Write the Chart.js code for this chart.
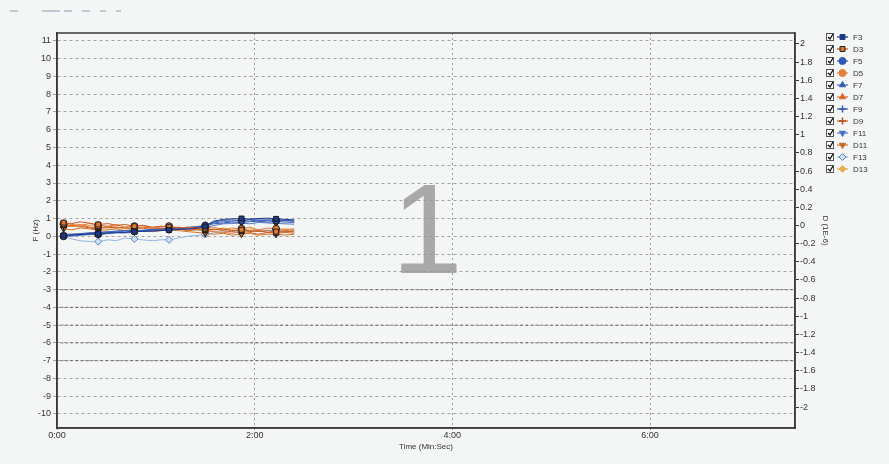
<!DOCTYPE html>
<html>
<head>
<meta charset="utf-8">
<title>Frequency / dissipation</title>
<script src="https://cdn.jsdelivr.net/npm/chart.js@4/dist/chart.umd.min.js"></script>
<style>
  html, body { margin: 0; padding: 0; background: #f4f5f5; }
  #wrap { position: relative; width: 889px; height: 464px; }
</style>
</head>
<body>
<div id="wrap"><canvas id="qcmChart" width="889" height="464"></canvas></div>
<script>
/* ============================================================
   QCM run 1 — frequency (F) and dissipation (D) overtones
   ============================================================ */

// Sample times (seconds)
const TIMES = [4, 9, 14, 20, 25, 31, 36, 41, 47, 52, 58, 63, 68, 74, 79, 85, 90, 95, 101, 106, 112, 117, 122, 128, 133, 139, 144];

// Frequency shifts, Hz (left axis)
const F3  = [0.05, 0.08, 0.1, 0.12, 0.15, 0.18, 0.2, 0.22, 0.25, 0.28, 0.3, 0.32, 0.35, 0.38, 0.4, 0.45, 0.55, 0.85, 0.95, 0.98, 1.0, 0.97, 1.0, 1.02, 0.98, 0.95, 0.92];
const F5  = [0.0, 0.05, 0.1, 0.15, 0.12, 0.2, 0.25, 0.22, 0.3, 0.28, 0.35, 0.33, 0.4, 0.42, 0.45, 0.5, 0.6, 0.8, 0.9, 0.92, 0.88, 0.95, 0.9, 0.93, 0.9, 0.88, 0.85];
const F7  = [0.02, 0.1, 0.08, 0.18, 0.2, 0.25, 0.22, 0.3, 0.28, 0.35, 0.38, 0.4, 0.42, 0.45, 0.48, 0.52, 0.62, 0.75, 0.82, 0.85, 0.9, 0.86, 0.92, 0.88, 0.85, 0.9, 0.87];
const F9  = [0.1, 0.12, 0.15, 0.2, 0.22, 0.25, 0.3, 0.32, 0.35, 0.3, 0.38, 0.4, 0.42, 0.45, 0.5, 0.55, 0.6, 0.7, 0.75, 0.8, 0.78, 0.82, 0.85, 0.8, 0.83, 0.8, 0.78];
const F11 = [0.05, 0.0, 0.05, 0.1, 0.08, 0.15, 0.2, 0.18, 0.25, 0.3, 0.28, 0.35, 0.38, 0.4, 0.42, 0.45, 0.5, 0.6, 0.7, 0.72, 0.75, 0.7, 0.78, 0.75, 0.72, 0.7, 0.68];
const F13 = [0.0, -0.15, -0.25, -0.3, -0.3, -0.2, -0.25, -0.1, -0.15, -0.2, -0.25, -0.2, -0.2, -0.1, 0.0, 0.05, 0.1, 0.2, 0.25, 0.3, 0.28, 0.32, 0.3, 0.35, 0.3, 0.28, 0.3];

// Dissipation shifts, 1E-6 (right axis)
const D3  = [0.031, 0.021, 0.041, 0.025, 0.011, 0.021, 0.002, 0.011, -0.008, 0.002, -0.018, -0.008, -0.018, -0.022, -0.028, -0.018, -0.033, -0.047, -0.037, -0.057, -0.047, -0.067, -0.057, -0.076, -0.067, -0.057, -0.073];
const D5  = [0.021, 0.011, 0.002, 0.021, 0.002, -0.008, 0.011, -0.018, -0.008, 0.002, -0.028, -0.018, -0.008, -0.028, -0.018, -0.037, -0.028, -0.018, -0.047, -0.028, -0.037, -0.018, -0.047, -0.028, -0.037, -0.047, -0.037];
const D7  = [0.002, -0.008, 0.011, -0.018, -0.028, -0.008, -0.018, -0.028, -0.037, -0.018, -0.028, -0.037, -0.028, -0.018, -0.037, -0.047, -0.057, -0.067, -0.076, -0.086, -0.067, -0.076, -0.096, -0.076, -0.086, -0.076, -0.086];
const D9  = [-0.018, 0.002, -0.008, -0.028, -0.037, -0.018, -0.028, -0.018, -0.037, -0.028, -0.047, -0.037, -0.047, -0.037, -0.057, -0.047, -0.057, -0.037, -0.057, -0.067, -0.047, -0.057, -0.067, -0.057, -0.076, -0.067, -0.057];
const D11 = [-0.037, -0.047, -0.028, -0.037, -0.057, -0.047, -0.037, -0.057, -0.047, -0.057, -0.067, -0.057, -0.047, -0.057, -0.067, -0.076, -0.086, -0.096, -0.086, -0.106, -0.096, -0.086, -0.106, -0.096, -0.096, -0.106, -0.096];
const D13 = [0.011, -0.008, -0.018, 0.002, -0.018, -0.028, -0.018, -0.037, -0.028, -0.018, -0.037, -0.028, -0.037, -0.047, -0.028, -0.037, -0.057, -0.047, -0.028, -0.047, -0.057, -0.037, -0.047, -0.057, -0.047, -0.037, -0.047];

// Stray traces from the panel behind (left axis levels)
const GHOST_LEVELS = [-3, -4, -5, -6, -7];

// Axis ticks
const X_TICKS = [0, 120, 240, 360];
const D_TICK_RANGE = [-2, 2];
const BIG_LABEL = '1';

const FONT = '"Liberation Sans", Arial, sans-serif';

// ── Series styles ─────────────────────────────────────────────
const SERIES = [
  { name: 'F3',  data: F3,  axis: 'y',  color: '#1d3a8a', fill: '#1d3a8a', style: 'rect',     rot: 0 },
  { name: 'D3',  data: D3,  axis: 'y2', color: '#d0561f', fill: '#e07a2c', style: 'rect',     rot: 0, edge: '#222' },
  { name: 'F5',  data: F5,  axis: 'y',  color: '#2f56b8', fill: '#2f56b8', style: 'circle',   rot: 0 },
  { name: 'D5',  data: D5,  axis: 'y2', color: '#e2803a', fill: '#e2803a', style: 'circle',   rot: 0 },
  { name: 'F7',  data: F7,  axis: 'y',  color: '#4468c8', fill: '#3558b0', style: 'triangle', rot: 0 },
  { name: 'D7',  data: D7,  axis: 'y2', color: '#e06a2a', fill: '#d8672a', style: 'triangle', rot: 0 },
  { name: 'F9',  data: F9,  axis: 'y',  color: '#3a5aa8', fill: '#3a5aa8', style: 'cross',    rot: 0 },
  { name: 'D9',  data: D9,  axis: 'y2', color: '#c8641e', fill: '#b8501e', style: 'cross',    rot: 0 },
  { name: 'F11', data: F11, axis: 'y',  color: '#5577cc', fill: '#4a6ec8', style: 'triangle', rot: 180 },
  { name: 'D11', data: D11, axis: 'y2', color: '#d4762c', fill: '#c86a28', style: 'triangle', rot: 180 },
  { name: 'F13', data: F13, axis: 'y',  color: '#93b8e4', fill: '#cfe0f4', style: 'rectRot',  rot: 0, edge: '#5a86c0' },
  { name: 'D13', data: D13, axis: 'y2', color: '#e3a448', fill: '#e8b050', style: 'rectRot',  rot: 0 }
];

// markers every fourth sample, like the instrument software
function markerRadius(ctx) {
  return ctx.dataIndex % 4 === 0 ? 3.5 : 0;
}

function fmtTime(sec) {
  const m = Math.floor(sec / 60);
  const s = Math.round(sec % 60);
  return m + ':' + String(s).padStart(2, '0');
}

// ── Datasets ──────────────────────────────────────────────────
const datasets = SERIES.map(s => ({
  label: s.name,
  data: TIMES.map((t, i) => ({ x: t, y: s.data[i] })),
  yAxisID: s.axis,
  borderColor: s.color,
  borderWidth: 1,
  backgroundColor: s.fill,
  pointBackgroundColor: s.fill,
  pointBorderColor: s.edge || '#1a1a1a',
  pointBorderWidth: 1,
  pointStyle: s.style,
  pointRotation: s.rot,
  pointRadius: markerRadius,
  pointHoverRadius: 0,
  tension: 0
}));

GHOST_LEVELS.forEach(lv => {
  datasets.push({
    label: '_ghost',
    data: [{ x: 2, y: lv }, { x: 448, y: lv }],
    yAxisID: 'y',
    borderColor: 'rgba(80,80,80,0.6)',
    borderWidth: 1.2,
    borderDash: [3, 2],
    pointRadius: 0,
    tension: 0
  });
});

// ── Decorations: frame, big run number, legend ────────────────
const decorPlugin = {
  id: 'decor',
  beforeDraw(chart) {
    const ctx = chart.ctx;
    ctx.save();
    ctx.fillStyle = '#f4f5f5';
    ctx.fillRect(0, 0, chart.width, chart.height);
    // faint toolbar remnants
    ctx.strokeStyle = 'rgba(90,110,150,0.35)';
    ctx.lineWidth = 2;
    [[10, 18], [42, 60], [64, 72], [82, 90], [100, 106], [116, 121]].forEach(([a, b]) => {
      ctx.beginPath(); ctx.moveTo(a, 11); ctx.lineTo(b, 11); ctx.stroke();
    });
    ctx.restore();
  },
  beforeDatasetsDraw(chart) {
    const ctx = chart.ctx;
    ctx.save();
    ctx.font = '128px ' + FONT;
    ctx.fillStyle = 'rgba(150,150,150,0.8)';
    ctx.textAlign = 'center';
    ctx.textBaseline = 'alphabetic';
    ctx.fillText(BIG_LABEL, 427, 273);
    ctx.restore();
  },
  afterDraw(chart) {
    const { ctx, chartArea: a } = chart;
    ctx.save();
    ctx.strokeStyle = '#3a3a3a';
    ctx.lineWidth = 1.5;
    ctx.strokeRect(a.left, a.top, a.right - a.left, a.bottom - a.top);

    // legend with check boxes
    ctx.font = '8px ' + FONT;
    ctx.textBaseline = 'middle';
    ctx.textAlign = 'left';
    SERIES.forEach((s, i) => {
      const y = 37 + i * 12;
      // check box
      ctx.fillStyle = '#ffffff';
      ctx.fillRect(826.5, y - 3.5, 7, 7);
      ctx.strokeStyle = '#555';
      ctx.lineWidth = 1;
      ctx.strokeRect(826.5, y - 3.5, 7, 7);
      ctx.strokeStyle = '#111';
      ctx.lineWidth = 1.3;
      ctx.beginPath();
      ctx.moveTo(828, y);
      ctx.lineTo(830, y + 2);
      ctx.lineTo(833, y - 3);
      ctx.stroke();
      // line + marker
      ctx.strokeStyle = s.color;
      ctx.lineWidth = 1.2;
      ctx.beginPath();
      ctx.moveTo(837, y);
      ctx.lineTo(848, y);
      ctx.stroke();
      ctx.fillStyle = s.fill;
      ctx.strokeStyle = s.style === 'cross' ? s.fill : (s.edge || s.fill);
      ctx.lineWidth = s.style === 'cross' ? 1.5 : 1;
      Chart.helpers.drawPoint(ctx, { pointStyle: s.style, radius: 3.5, rotation: s.rot, borderWidth: 1 }, 842.5, y);
      ctx.fillStyle = '#333';
      ctx.fillText(s.name, 853, y + 0.5);
    });
    ctx.restore();
  }
};

// ── Chart ─────────────────────────────────────────────────────
function renderChart() {
  const canvas = document.getElementById('qcmChart');
  if (!canvas || typeof Chart === 'undefined') return;

  const tickFont = { family: FONT, size: 9 };
  const textColor = '#333';

  new Chart(canvas, {
    type: 'line',
    data: { datasets },
    options: {
      responsive: false,
      animation: false,
      layout: { padding: { left: 31, right: 59, top: 33, bottom: 12 } },
      plugins: {
        legend: { display: false },
        tooltip: { enabled: false }
      },
      scales: {
        x: {
          type: 'linear',
          min: 0,
          max: 448,
          afterFit: s => { s.height = 24; },
          afterBuildTicks: s => { s.ticks = X_TICKS.map(v => ({ value: v })); },
          ticks: { font: tickFont, color: textColor, padding: 0, maxRotation: 0, callback: v => fmtTime(v) },
          grid: { color: '#9a9a9a', lineWidth: 1, tickLength: 2 },
          border: { display: true, color: '#3a3a3a', width: 1.5, dash: [2, 3] },
          title: { display: true, text: 'Time (Min:Sec)', font: { family: FONT, size: 8 }, color: textColor, padding: { top: 0, bottom: 0 } }
        },
        y: {
          position: 'left',
          min: -10.8,
          max: 11.45,
          afterFit: s => { s.width = 26; },
          ticks: { stepSize: 1, includeBounds: false, font: tickFont, color: textColor, padding: 2 },
          grid: { color: '#a4a4a4', lineWidth: 1, tickLength: 4 },
          border: { display: true, color: '#3a3a3a', width: 1.5, dash: [3, 3] },
          title: { display: true, text: 'F (Hz)', font: { family: FONT, size: 8 }, color: textColor, padding: { top: 0, bottom: 0 } }
        },
        y2: {
          position: 'right',
          min: -2.23,
          max: 2.12,
          afterFit: s => { s.width = 35; },
          afterBuildTicks: s => {
            s.ticks = s.ticks.filter(t => t.value >= D_TICK_RANGE[0] - 1e-6 && t.value <= D_TICK_RANGE[1] + 1e-6);
          },
          ticks: { stepSize: 0.2, includeBounds: false, font: tickFont, color: textColor, padding: 1, callback: v => String(+v.toFixed(1)) },
          grid: { drawOnChartArea: false, color: '#3a3a3a', tickLength: 4 },
          border: { display: true, color: '#3a3a3a', width: 1.5 },
          title: { display: true, text: 'D (1E-6)', font: { family: FONT, size: 8 }, color: textColor, padding: { top: 0, bottom: 0 } }
        }
      }
    },
    plugins: [decorPlugin]
  });
}

document.addEventListener('DOMContentLoaded', renderChart);
</script>
</body>
</html>
